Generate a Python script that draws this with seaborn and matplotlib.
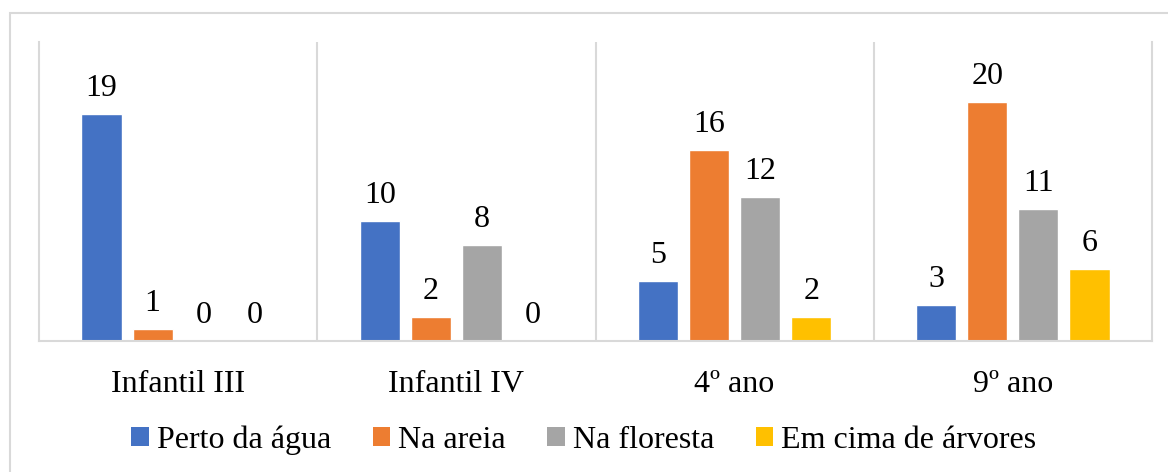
import numpy as np
import pandas as pd
import seaborn as sns
import matplotlib.pyplot as plt
from matplotlib.patches import Patch, Rectangle

# data
grades = ['Infantil III', 'Infantil IV', '4º ano', '9º ano']
places = ['Perto da água', 'Na areia', 'Na floresta', 'Em cima de árvores']
perto_agua = [19, 10, 5, 3]
na_areia = [1, 2, 16, 20]
na_floresta = [0, 8, 12, 11]
em_cima_arvores = [0, 0, 2, 6]
colors = ['#4472C4', '#ED7D31', '#A5A5A5', '#FFC000']

rows = []
for place, vals in zip(places, [perto_agua, na_areia, na_floresta, em_cima_arvores]):
    for g, v in zip(grades, vals):
        rows.append({'grade': g, 'place': place, 'count': v})
df = pd.DataFrame(rows)

sns.set_theme(style='white')
plt.rcParams['font.family'] = ['Liberation Serif', 'DejaVu Serif']
plt.rcParams['text.color'] = 'black'
plt.rcParams['xtick.color'] = 'black'

fig = plt.figure(figsize=(11.68, 4.72), dpi=100)
ax = fig.add_axes([39 / 1168, 131 / 472, 1113 / 1168, 299 / 472])

sns.barplot(data=df, x='grade', y='count', hue='place', palette=colors,
            width=0.734, gap=0.215, saturation=1, legend=False, ax=ax)

for cont in ax.containers:
    ax.bar_label(cont, labels=[f'{int(b.get_height())}' for b in cont],
                 padding=8, fontsize=23, color='black')

ax.set_ylim(0, 25)
ax.set_xlim(-0.5, 3.5)
ax.set_xlabel('')
ax.set_ylabel('')
ax.set_yticks([])
ax.tick_params(axis='x', length=0, pad=21, labelsize=23, labelcolor='black')

# category separators
ax.set_xticks([0.5, 1.5, 2.5], minor=True)
ax.grid(True, which='minor', axis='x', color='#D9D9D9', lw=1.5)
ax.tick_params(axis='x', which='minor', length=0)

for side in ['left', 'right', 'bottom']:
    ax.spines[side].set_color('#D9D9D9')
    ax.spines[side].set_linewidth(1.5)
ax.spines['top'].set_visible(False)

# outer chart border
fig.patches.append(Rectangle((10 / 1168, -0.1), 1.2, 0.1 + (472 - 13) / 472,
                             transform=fig.transFigure, fill=False,
                             edgecolor='#D9D9D9', lw=1.5))

handles = [Patch(facecolor=c, edgecolor='none') for c in colors]
fig.legend(handles, places, loc='center', bbox_to_anchor=(0.5, 0.068), ncol=4,
           frameon=False, fontsize=23, handlelength=0.55, handleheight=0.55,
           handletextpad=0.25, columnspacing=1.3, labelcolor='black')

fig.savefig('out.png', dpi=100)
